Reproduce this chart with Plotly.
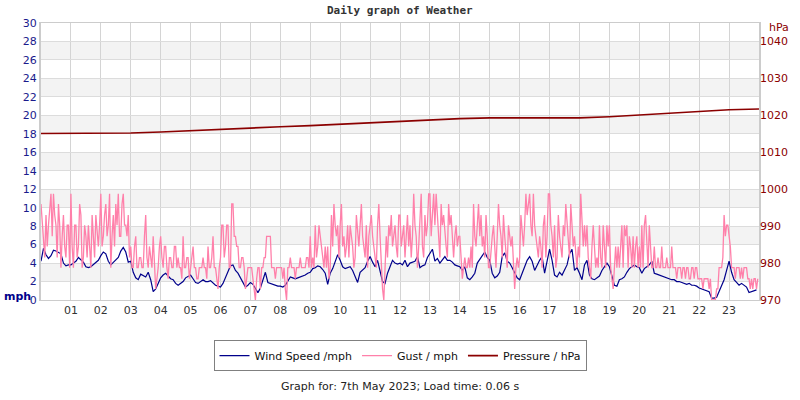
import numpy as np
import plotly.graph_objects as go

# ---------------- data ----------------
# wind speed (mph), one value every 5 minutes from 00:00 (12 per hour)
wind_mph = [
    4.2, 5.6, 4.9, 4.5, 4.8, 5.4, 5.3, 5.1, 5.0, 4.0, 3.7, 3.8,
    3.8, 4.0, 4.2, 4.6, 4.4, 4.1, 3.6, 3.5, 3.6, 3.8, 4.0, 4.3,
    4.8, 5.2, 5.0, 4.2, 3.8, 4.1, 4.3, 4.6, 5.3, 5.7, 5.2, 4.1,
    4.2, 3.0, 2.4, 2.2, 2.8, 2.6, 2.5, 3.0, 2.2, 0.9, 1.2, 1.8,
    2.4, 2.7, 2.9, 2.6, 2.3, 2.2, 1.8, 1.6, 1.8, 2.0, 2.4, 2.6,
    2.7, 2.3, 1.9, 1.8, 2.0, 2.2, 2.0, 2.0, 2.1, 1.8, 1.6, 1.5,
    1.4, 1.8, 2.4, 3.0, 3.7, 3.8, 3.2, 2.9, 2.4, 1.8, 1.4, 1.6,
    1.9, 1.7, 1.3, 0.8, 1.3, 2.2, 3.0, 1.9, 1.8, 1.7, 1.6, 1.5,
    1.5, 1.4, 1.6, 2.0, 2.5, 2.4, 2.3, 2.4, 2.5, 2.6, 2.7, 2.9,
    3.0, 3.4, 3.5, 3.7, 3.6, 3.3, 2.9, 1.7, 2.9, 3.4, 4.2, 4.9,
    4.3, 3.6, 3.4, 3.5, 3.6, 3.2, 2.6, 1.9, 3.0, 3.2, 3.5, 4.2,
    4.7, 4.1, 3.6, 4.3, 3.0, 2.0, 1.8, 2.9, 3.6, 4.3, 4.0, 3.9,
    4.0, 3.8, 4.3, 3.6, 4.0, 4.1, 4.2, 4.7, 3.5, 3.7, 3.8, 4.6,
    5.1, 5.5, 4.2, 4.5, 4.0, 4.4, 4.7, 4.3, 4.3, 4.1, 3.8, 3.7,
    3.6, 3.2, 3.6, 2.4, 2.2, 2.5, 2.9, 4.0, 4.4, 4.7, 5.2, 4.6,
    4.3, 2.9, 2.4, 2.6, 3.0, 4.7, 5.1, 4.2, 4.0, 3.5, 2.9, 2.4,
    2.2, 2.9, 3.8, 4.3, 4.7, 4.2, 3.2, 3.8, 4.3, 4.7, 2.9, 4.2,
    5.5, 4.3, 2.7, 2.5, 3.0, 2.7, 3.2, 3.8, 5.0, 5.5, 3.2, 3.5,
    2.9, 2.2, 3.8, 4.3, 2.7, 2.3, 2.2, 2.4, 2.6, 3.2, 3.6, 4.0,
    3.6, 2.6, 1.6, 1.5, 2.2, 2.3, 2.5, 3.0, 3.4, 3.6, 3.8, 3.6,
    3.5, 2.9, 3.4, 3.6, 3.8, 4.2, 2.9, 2.8, 2.7, 2.6, 2.5, 2.4,
    2.3, 2.2, 2.2, 2.0, 2.0, 1.9, 1.8, 1.7, 1.8, 1.6, 1.6, 1.5,
    1.3, 1.2, 1.1, 1.0, 0.9, 0.2, 0.2, 0.3, 0.9, 1.6, 2.2, 3.2,
    4.2, 3.0, 2.2, 1.9, 1.6, 1.8, 1.6, 1.4, 0.8, 0.9, 1.0, 1.1,
]

# gust (mph), one value every 2.5 minutes from 00:00 (24 per hour)
gust_mph = [
    10.4, 8.1, 6.9, 4.6, 9.2, 5.8, 8.1, 10.4, 11.5, 6.9, 11.5, 9.2, 8.1, 4.6, 10.4, 8.1, 3.5, 6.9, 9.2, 5.8, 4.6, 8.1, 8.1, 3.5,
    11.5, 5.8, 3.5, 8.1, 8.1, 4.6, 5.8, 10.4, 9.2, 3.5, 4.6, 8.1, 6.9, 4.6, 8.1, 5.8, 3.5, 9.2, 6.9, 4.6, 9.2, 6.9, 5.8, 8.1,
    11.5, 5.8, 6.9, 9.2, 10.4, 6.9, 8.1, 11.5, 3.5, 6.9, 9.2, 5.8, 10.4, 8.1, 11.5, 6.9, 6.9, 10.4, 11.5, 8.1, 8.1, 6.9, 9.2, 4.6,
    5.8, 3.5, 3.5, 5.8, 6.9, 3.5, 3.5, 4.6, 4.6, 3.5, 3.5, 6.9, 9.2, 4.6, 3.5, 5.8, 4.6, 3.5, 6.9, 3.5, 1.2, 2.3, 3.5, 5.8,
    6.9, 4.6, 3.5, 5.8, 5.8, 3.5, 2.3, 4.6, 4.6, 3.5, 3.5, 5.8, 5.8, 3.5, 4.6, 3.5, 3.5, 2.3, 6.9, 3.5, 3.5, 4.6, 4.6, 2.3,
    3.5, 4.6, 5.8, 3.5, 3.5, 2.3, 2.3, 3.5, 3.5, 3.5, 4.6, 3.5, 3.5, 2.3, 5.8, 3.5, 3.5, 4.6, 6.9, 3.5, 3.5, 2.3, 1.2, 3.5,
    4.6, 8.1, 8.1, 4.6, 5.8, 8.1, 8.1, 3.5, 3.5, 10.4, 10.4, 6.9, 6.9, 5.8, 5.8, 3.5, 3.5, 4.6, 4.6, 3.5, 1.2, 2.3, 3.5, 3.5,
    3.5, 3.5, 2.3, 1.2, 0.0, 2.3, 3.5, 3.5, 1.2, 3.5, 3.5, 4.6, 4.6, 6.9, 6.9, 6.9, 6.9, 3.5, 3.5, 3.5, 2.3, 3.5, 3.5, 3.5,
    3.5, 3.5, 2.3, 3.5, 1.2, 0.0, 3.5, 3.5, 4.6, 3.5, 3.5, 3.5, 2.3, 3.5, 3.5, 3.5, 4.6, 3.5, 3.5, 3.5, 3.5, 4.6, 4.6, 3.5,
    6.9, 3.5, 4.6, 3.5, 8.1, 4.6, 5.8, 8.1, 6.9, 5.8, 4.6, 3.5, 5.8, 3.5, 5.8, 2.3, 3.5, 9.2, 5.8, 10.4, 8.1, 6.9, 8.1, 4.6,
    8.1, 10.4, 5.8, 6.9, 4.6, 5.8, 8.1, 4.6, 8.1, 6.9, 5.8, 3.5, 4.6, 9.2, 6.9, 5.8, 8.1, 10.4, 6.9, 5.8, 4.6, 8.1, 3.5, 6.9,
    8.1, 9.2, 6.9, 5.8, 4.6, 3.5, 8.1, 10.4, 6.9, 3.5, 1.2, 0.0, 3.5, 6.9, 4.6, 8.1, 6.9, 9.2, 5.8, 6.9, 8.1, 5.8, 4.6, 9.2,
    9.2, 5.8, 6.9, 8.1, 4.6, 6.9, 9.2, 5.8, 8.1, 4.6, 6.9, 11.5, 8.1, 6.9, 3.5, 5.8, 8.1, 11.5, 5.8, 4.6, 9.2, 6.9, 8.1, 11.5,
    11.5, 6.9, 9.2, 11.5, 8.1, 11.5, 9.2, 6.9, 4.6, 10.4, 8.1, 9.2, 6.9, 5.8, 4.6, 10.4, 8.1, 9.2, 6.9, 4.6, 6.9, 8.1, 5.8, 6.9,
    6.9, 4.6, 2.3, 3.5, 4.6, 3.5, 3.5, 4.6, 3.5, 5.8, 3.5, 10.4, 6.9, 5.8, 8.1, 10.4, 6.9, 9.2, 5.8, 6.9, 4.6, 9.2, 6.9, 3.5,
    3.5, 5.8, 6.9, 8.1, 5.8, 3.5, 6.9, 10.4, 8.1, 6.9, 4.6, 9.2, 6.9, 4.6, 3.5, 8.1, 6.9, 5.8, 6.9, 3.5, 1.2, 3.5, 4.6, 3.5,
    4.6, 9.2, 6.9, 5.8, 8.1, 11.5, 9.2, 10.4, 11.5, 8.1, 6.9, 11.5, 8.1, 6.9, 5.8, 4.6, 6.9, 5.8, 3.5, 8.1, 9.2, 4.6, 6.9, 11.5,
    11.5, 8.1, 6.9, 4.6, 8.1, 3.5, 4.6, 9.2, 6.9, 5.8, 4.6, 8.1, 6.9, 10.4, 8.1, 6.9, 4.6, 10.4, 8.1, 5.8, 6.9, 4.6, 3.5, 5.8,
    4.6, 11.5, 8.1, 5.8, 8.1, 5.8, 8.1, 4.6, 3.5, 2.3, 5.8, 8.1, 5.8, 3.5, 4.6, 3.5, 8.1, 4.6, 3.5, 8.1, 5.8, 3.5, 8.1, 5.8,
    8.1, 3.5, 2.3, 1.2, 3.5, 5.8, 3.5, 5.8, 3.5, 5.8, 8.1, 3.5, 8.1, 6.9, 8.1, 3.5, 6.9, 5.8, 3.5, 6.9, 3.5, 5.8, 6.9, 3.5,
    5.8, 3.5, 8.1, 3.5, 8.1, 9.2, 6.9, 3.5, 8.1, 5.8, 3.5, 3.5, 5.8, 3.5, 3.5, 4.6, 3.5, 3.5, 5.8, 3.5, 3.5, 3.5, 4.6, 3.5,
    3.5, 3.5, 5.8, 3.5, 3.5, 3.5, 2.3, 3.5, 3.5, 3.5, 2.3, 3.5, 3.5, 2.3, 3.5, 3.5, 2.3, 2.3, 3.5, 3.5, 2.3, 3.5, 3.5, 2.3,
    2.3, 2.3, 2.3, 1.2, 2.3, 2.3, 2.3, 2.3, 1.2, 2.3, 0.0, 0.0, 0.0, 0.0, 1.2, 1.2, 3.5, 3.5, 3.5, 4.6, 9.2, 6.9, 8.1, 8.1,
    6.9, 5.8, 3.5, 3.5, 3.5, 2.3, 3.5, 3.5, 3.5, 2.3, 3.5, 2.3, 3.5, 3.5, 3.5, 2.3, 2.3, 1.2, 2.3, 1.2, 2.3, 2.3, 1.2, 2.3,
]

# pressure (hPa), hourly from 00:00 to 24:00
pressure_hpa = [
    1015.1, 1015.1, 1015.2, 1015.2, 1015.5, 1015.9, 1016.2, 1016.6,
    1016.9, 1017.2, 1017.6, 1018.0, 1018.4, 1018.9, 1019.1, 1019.3,
    1019.3, 1019.2, 1019.3, 1019.6, 1020.1, 1020.6, 1021.1, 1021.5,
    1021.7,
]

hour_labels = ["%02d" % h for h in range(1, 24)]
mph_ticks = list(range(0, 31, 2))
hpa_ticks = list(range(970, 1041, 10))

# ---------------- time bases (hours) ----------------
t_wind = np.arange(len(wind_mph)) * 5 / 60.0
t_gust = np.arange(len(gust_mph)) * 2.5 / 60.0
t_pres = np.arange(len(pressure_hpa)) * 1.0

NAVY = "#00008b"
PINK = "#ff80aa"
DRED = "#8b0000"
FONT = "DejaVu Sans"

fig = go.Figure()
fig.add_trace(go.Scatter(x=t_wind, y=wind_mph, mode="lines", name="Wind Speed /mph",
                         line=dict(color=NAVY, width=1.2)))
fig.add_trace(go.Scatter(x=t_gust, y=gust_mph, mode="lines", name="Gust / mph",
                         line=dict(color=PINK, width=1.3)))
fig.add_trace(go.Scatter(x=t_pres, y=pressure_hpa, mode="lines", name="Pressure / hPa",
                         line=dict(color=DRED, width=1.6), yaxis="y2"))

# alternating grey bands
shapes = []
for lo in range(2, 30, 4):
    shapes.append(dict(type="rect", xref="paper", x0=0, x1=1, yref="y", y0=lo, y1=lo + 2,
                       fillcolor="#f3f3f3", line=dict(width=0), layer="below"))

fig.update_layout(
    width=800, height=400,
    margin=dict(l=41, r=38, t=23, b=100),
    paper_bgcolor="white", plot_bgcolor="white",
    font=dict(family=FONT, size=11, color="#333333"),
    shapes=shapes,
    showlegend=True,
    legend=dict(orientation="h", x=0.5, xanchor="center", y=-0.145, yanchor="top",
                bordercolor="#808080", borderwidth=1, bgcolor="white",
                font=dict(family=FONT, size=11, color="#111111"),
                traceorder="normal", tracegroupgap=0),
    xaxis=dict(range=[0, 24], tickmode="array", tickvals=list(range(1, 24)),
               ticktext=hour_labels, showgrid=True, gridcolor="#d4d4d4", gridwidth=1,
               showline=True, linecolor="#cccccc", linewidth=1, mirror=True,
               zeroline=False, ticks="", tickfont=dict(family=FONT, size=11, color="#333333"),
               fixedrange=True),
    yaxis=dict(range=[0, 30], tickmode="array", tickvals=mph_ticks,
               showgrid=True, gridcolor="#dcdcdc", gridwidth=1,
               showline=True, linecolor="#cccccc", linewidth=2, mirror=True,
               zeroline=False, ticks="", tickfont=dict(family=FONT, size=11, color="#1a1a8c")),
    yaxis2=dict(range=[970, 1045], overlaying="y", side="right", tickmode="array",
                tickvals=hpa_ticks, showgrid=False, zeroline=False, ticks="",
                tickfont=dict(family=FONT, size=11, color=DRED)),
    annotations=[
        dict(text="<b>Daily graph of Weather</b>", xref="paper", yref="paper",
             x=0.5, y=1.0, yshift=13, xanchor="center", yanchor="middle", showarrow=False,
             font=dict(family="DejaVu Sans Mono", size=11, color="#333333")),
        dict(text="<b>mph</b>", xref="paper", yref="paper", x=-0.054, y=0.014,
             xanchor="left", yanchor="middle", showarrow=False,
             font=dict(family=FONT, size=11, color="#00008b")),
        dict(text="hPa", xref="paper", yref="paper", x=1.028, y=0.982,
             xanchor="center", yanchor="middle", showarrow=False,
             font=dict(family=FONT, size=11, color=DRED)),
        dict(text="Graph for: 7th May 2023; Load time: 0.06 s", xref="paper", yref="paper",
             x=0.5, y=-0.314, xanchor="center", yanchor="middle", showarrow=False,
             font=dict(family=FONT, size=11, color="#222222")),
    ],
)

fig.write_html("out.html")
